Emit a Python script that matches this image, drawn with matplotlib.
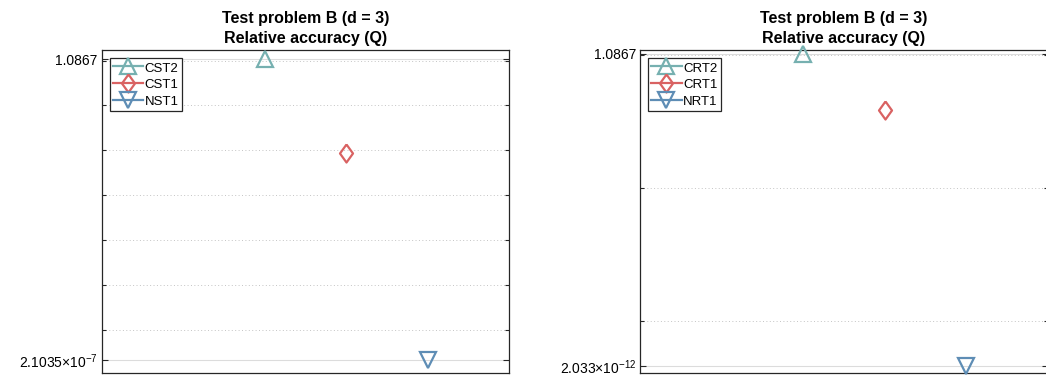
import numpy as np
import matplotlib
matplotlib.use('Agg')
from matplotlib import pyplot as plt
from matplotlib.ticker import FixedLocator, NullFormatter

plt.rcParams['font.family'] = ['Liberation Sans', 'DejaVu Sans']
plt.rcParams['mathtext.fontset'] = 'custom'
plt.rcParams['mathtext.rm'] = 'Liberation Sans'
plt.rcParams['mathtext.it'] = 'Liberation Sans:italic'

# data
x_pos = [2, 3, 4]
left_names = ['CST2', 'CST1', 'NST1']
left_vals = [1.0867, 8.8e-3, 2.1035e-7]
left_ticklabels = ['1.0867', r'$\mathregular{2.1035{\times}10^{-7}}$']
left_minor = [1e0, 1e-1, 1e-2, 1e-3, 1e-4, 1e-5, 1e-6]
left_ylim = (1.094e-7, 1.728)

right_names = ['CRT2', 'CRT1', 'NRT1']
right_vals = [1.0867, 8.5e-3, 2.033e-12]
right_ticklabels = ['1.0867', r'$\mathregular{2.033{\times}10^{-12}}$']
right_minor = [1e0, 1e-5, 1e-10]
right_ylim = (1.108e-12, 1.537)

title = 'Test problem B (d = 3)\nRelative accuracy (Q)'

colors = ['#76B0B0', '#D96262', '#5E8DB5']
diamond = [(0, 1), (0.72, 0), (0, -1), (-0.72, 0), (0, 1)]
markers = ['^', diamond, 'v']
msizes = [11.5, 13, 11.5]

fig = plt.figure(figsize=(10.46, 3.79), dpi=100)
ax1 = fig.add_axes([0.0972, 0.0166, 0.3897, 0.8515])
ax2 = fig.add_axes([0.6119, 0.0166, 0.3897, 0.8515])

panels = [
    (ax1, left_names, left_vals, left_ticklabels, left_minor, left_ylim),
    (ax2, right_names, right_vals, right_ticklabels, right_minor, right_ylim),
]

for ax, names, vals, tlabels, minor, ylim in panels:
    ax.set_yscale('log')
    handles = []
    for i in range(3):
        h, = ax.plot([x_pos[i]], [vals[i]], linestyle='-', linewidth=1.6,
                     marker=markers[i], markersize=msizes[i],
                     markerfacecolor='none', markeredgecolor=colors[i],
                     markeredgewidth=1.6, color=colors[i], label=names[i],
                     clip_on=False, zorder=3)
        handles.append(h)
    ax.set_xlim(0, 5)
    ax.set_ylim(*ylim)
    ax.set_xticks([])
    ax.yaxis.set_major_locator(FixedLocator([vals[2], vals[0]]))
    ax.set_yticklabels([tlabels[1], tlabels[0]])
    ax.yaxis.set_minor_locator(FixedLocator(minor))
    ax.yaxis.set_minor_formatter(NullFormatter())
    ax.tick_params(axis='y', which='both', direction='in', right=True,
                   labelsize=10, color='#262626', width=0.8, pad=3)
    ax.tick_params(axis='y', which='major', length=4)
    ax.tick_params(axis='y', which='minor', length=3)
    ax.grid(True, axis='y', which='major', color='#dcdcdc', linestyle='-', linewidth=0.8)
    ax.grid(True, axis='y', which='minor', color='#c4c4c4', linestyle=(0, (1, 2.5)), linewidth=0.7)
    for s in ax.spines.values():
        s.set_color('#262626')
        s.set_linewidth(0.9)
    ax.set_title(title, fontsize=11.5, fontweight='bold', pad=5, linespacing=1.45)
    leg = ax.legend(handles=handles, loc='upper left', fontsize=9.5, numpoints=1,
                    handlelength=2.3, handleheight=1.0, handletextpad=0.1,
                    labelspacing=0.25, borderpad=0.25, borderaxespad=0.6,
                    fancybox=False, framealpha=1, edgecolor='#262626')
    leg.get_frame().set_linewidth(0.9)

fig.savefig('out.png', dpi=100)
